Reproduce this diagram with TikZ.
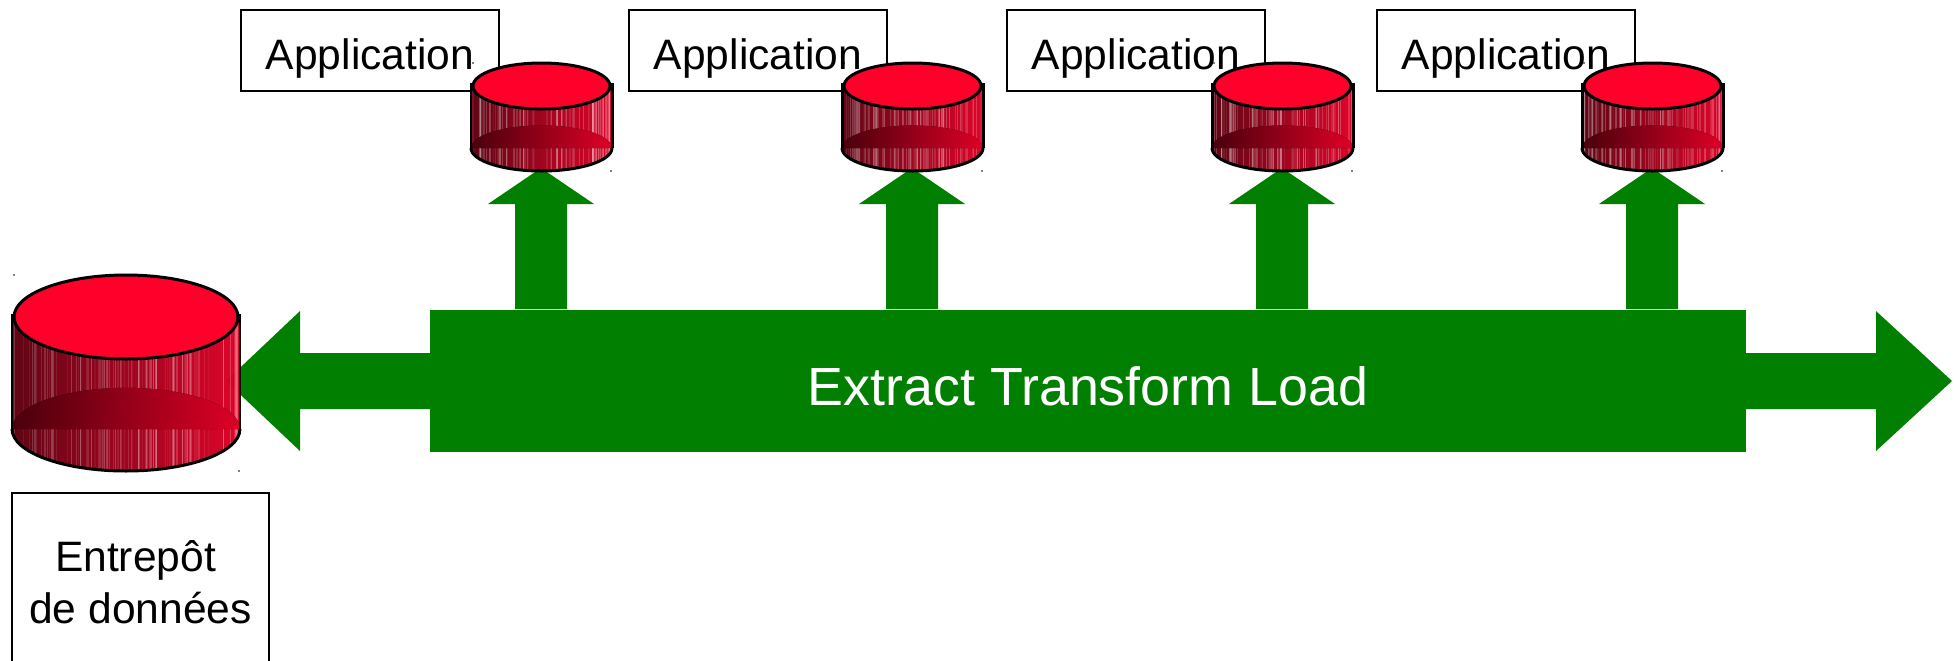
\documentclass[tikz,border=0pt]{standalone}
\usepackage{fontspec}
\setmainfont{Liberation Sans}
\definecolor{etlgreen}{HTML}{007F00}
\definecolor{dbred}{HTML}{FF002B}
\tikzset{
  appbox/.style={draw=black,line width=.6pt,fill=white,minimum width=2.58cm,minimum height=.81cm,inner sep=0pt,text height=.46cm,text depth=.09cm,font=\fontsize{12.1}{14.8}\selectfont},
  dwbox/.style={draw=black,line width=.6pt,fill=white,minimum width=2.57cm,minimum height=1.78cm,inner sep=0pt,align=center,font=\fontsize{12.1}{14.8}\selectfont},
  etlband/.style={fill=etlgreen,text=white,minimum width=13.16cm,minimum height=1.41cm,inner sep=0pt,text height=.58cm,text depth=.10cm,font=\fontsize{15.3}{18}\selectfont},
  dbline/.style={draw=black,line width=.85pt}
}
% cx, cy of the lid, x radius, y radius, height
\newcommand{\dbstack}[5]{
  \begin{scope}
  \path[clip] (#1-#3,#2) -- (#1-#3,#2-#5) arc[start angle=180,end angle=360,x radius=#3,y radius=#4] -- (#1+#3,#2) -- cycle;
  \fill[left color=dbred!42!black,right color=dbred,fill opacity=.85] (#1-#3,#2+#4) rectangle (#1+#3,#2-#5-#4);
  \foreach \i in {0,...,90} {
    \pgfmathsetmacro{\sx}{#1-#3+2*#3*rnd}
    \pgfmathsetmacro{\so}{.04+.2*rnd}
    \draw[white,opacity=\so,line width=.35pt] (\sx,#2) -- (\sx,#2-#5-#4);
  }
  \end{scope}
  \fill[left color=dbred!30!black,right color=dbred!92!black,fill opacity=.95] (#1-#3,#2-#5) arc[start angle=180,end angle=0,x radius=#3,y radius=.98*#4] -- cycle;
  \draw[dbline] (#1-#3,#2-#5) arc[start angle=180,end angle=360,x radius=#3,y radius=#4];
  \draw[dbline] (#1-#3,#2+3) -- (#1-#3,#2-#5);
  \draw[dbline] (#1+#3,#2+3) -- (#1+#3,#2-#5);
  \filldraw[fill=dbred,dbline] (#1,#2) ellipse[x radius=#3-2,y radius=#4];
  \fill (#1-#3+2,#2+#4) circle[radius=.8];
  \fill (#1+#3-1,#2-#5-#4) circle[radius=.8];
}
\begin{document}
\begin{tikzpicture}[x=.01cm,y=.01cm]
\path[use as bounding box,clip] (0,0) rectangle (1954,-660);
\fill[white] (0,0) rectangle (1954,-660);
\node[appbox] (app1) at (370,-50.5) {Application};
\node[appbox] (app2) at (758,-50.5) {Application};
\node[appbox] (app3) at (1136,-50.5) {Application};
\node[appbox] (app4) at (1506,-50.5) {Application};
\node[etlband] (etl) at (1088,-381) {Extract Transform Load};
\node[dwbox] (dw) at (140.5,-582) {Entrep\^ot\kern.1cm\\de donn\'ees};
\fill[etlgreen] (431,-353) -- (300,-353) -- (300,-311) -- (226,-381) -- (300,-451) -- (300,-409) -- (431,-409) -- cycle;
\fill[etlgreen] (1745,-353) -- (1876,-353) -- (1876,-311) -- (1952,-381) -- (1876,-451) -- (1876,-409) -- (1745,-409) -- cycle;
\foreach \cx in {541,912,1282,1652} {
  \fill[etlgreen] (\cx-26,-309) -- (\cx-26,-204) -- (\cx-53,-204) -- (\cx,-168) -- (\cx+53,-204) -- (\cx+26,-204) -- (\cx+26,-309) -- cycle;
}
\pgfmathsetseed{1954}
\dbstack{126}{-317}{114}{42}{112}
\dbstack{541.5}{-86}{70.5}{23}{62}
\dbstack{912.5}{-86}{70.5}{23}{62}
\dbstack{1282.5}{-86}{70.5}{23}{62}
\dbstack{1652.5}{-86}{70.5}{23}{62}
\end{tikzpicture}
\end{document}
